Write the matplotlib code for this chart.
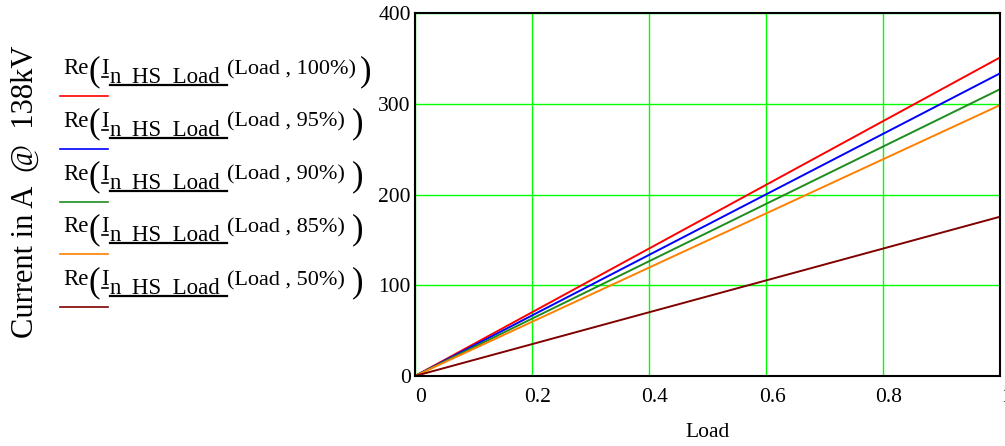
import matplotlib.pyplot as plt
import matplotlib.transforms as mtransforms
from matplotlib.lines import Line2D

plt.rcParams['font.family'] = ['Liberation Serif', 'DejaVu Serif']

# load (per unit) and neutral current at 138kV for each tap setting
load = [0.0, 1.0]
current_100 = [0.0, 351.0]
current_95 = [0.0, 333.5]
current_90 = [0.0, 316.0]
current_85 = [0.0, 298.5]
current_50 = [0.0, 175.5]

settings = ['100%', '95%', '90%', '85%', '50%']
series = [current_100, current_95, current_90, current_85, current_50]
colors = ['#ff0000', '#0000ff', '#1e8c1e', '#ff8000', '#800000']

x_ticks = [0, 0.2, 0.4, 0.6, 0.8, 1.0]
x_tick_labels = ['0', '0.2', '0.4', '0.6', '0.8', '1']
y_ticks = [0, 100, 200, 300, 400]

W, H = 1005, 446
fig = plt.figure(figsize=(W / 100, H / 100), dpi=100)
ax = fig.add_axes([415 / W, 1 - 376 / H, 585 / W, 363 / H])

for vals, c in zip(series, colors):
    ax.plot(load, vals, color=c, lw=1.4, solid_capstyle='butt')

ax.set_xlim(0, 1)
ax.set_ylim(0, 400)
ax.set_xticks(x_ticks)
ax.set_xticklabels(x_tick_labels)
ax.set_yticks(y_ticks)
ax.grid(True, color='#00ff00', lw=1.0)
ax.set_axisbelow(True)
ax.tick_params(length=0, labelsize=15.5)
ax.tick_params(axis='x', pad=9)
ax.tick_params(axis='y', pad=3)
for s in ax.spines.values():
    s.set_linewidth(1.5)
    s.set_color('black')
ax.set_xlabel('Load', fontsize=15.5, labelpad=11)

# x tick labels sit a little to the right of their grid lines
shift = mtransforms.ScaledTranslation(6 / 100, 0, fig.dpi_scale_trans)
for lbl in ax.get_xticklabels():
    lbl.set_transform(lbl.get_transform() + shift)


def px(x, y):
    return x / W, 1 - y / H


fig.text(*px(25, 192), 'Current in A  @  138kV', rotation=90, fontsize=22,
         ha='center', va='center')

# legend entries drawn by hand, one block per tap setting
for i, (name, c) in enumerate(zip(settings, colors)):
    dy = i * 52.8
    base = 74 + dy
    fig.text(*px(63, base), 'Re', fontsize=16.5, va='baseline')
    fig.text(*px(88, base + 6), '(', fontsize=25, va='baseline')
    fig.text(*px(101, base), 'I', fontsize=16.5, va='baseline')
    fig.text(*px(110, base + 8), 'n_HS_Load', fontsize=16.5, va='baseline')
    fig.text(*px(227, base), '(Load , ' + name + ')', fontsize=16, va='baseline')
    end_x = 360 if name == '100%' else 352
    fig.text(*px(end_x, base + 6), ')', fontsize=25, va='baseline')
    fig.add_artist(Line2D([102 / W, 108 / W], [1 - (base + 3) / H] * 2,
                          color='black', lw=1.2))
    fig.add_artist(Line2D([110 / W, 227 / W], [1 - (base + 11) / H] * 2,
                          color='black', lw=1.6))
    fig.add_artist(Line2D([60 / W, 108 / W], [1 - (96 + dy) / H] * 2,
                          color=c, lw=1.2))

fig.savefig('out.png', dpi=100)
